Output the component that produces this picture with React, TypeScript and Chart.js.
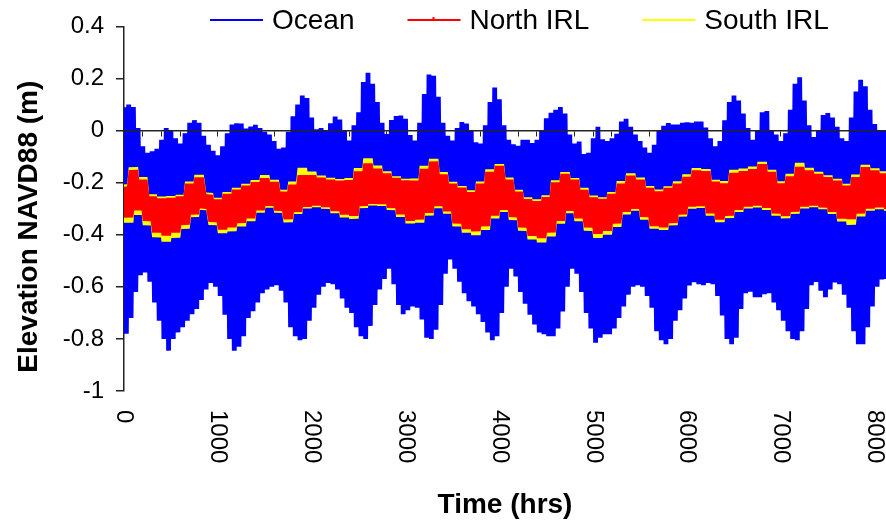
import React, { useEffect, useRef } from 'react';
import { Chart, registerables } from 'chart.js';

Chart.register(...registerables);

// ---------- data ----------
const seriesLabels = ['Ocean', 'North IRL', 'South IRL'];
const seriesColors = ['#0000ff', '#ff0000', '#ffff00'];

// sampling grid of the envelope readings (hours)
const OCEAN_STEP_HRS = 50;
const IRL_STEP_HRS = 100;

const X_MIN = 0;
const X_MAX = 8120;
const X_LABEL_STEP = 1000;
const X_LABEL_LAST = 8000;
const X_MINOR_STEP = 200;
const Y_MIN = -1;
const Y_MAX = 0.4;
const Y_STEP = 0.2;

const X_TITLE = 'Time (hrs)';
const Y_TITLE = 'Elevation NAVD88 (m)';

// Ocean: high-water and low-water levels (m), one pair every 50 hrs
const oceanHigh = [
  0.09, 0.10, 0.09, 0.01, -0.06, -0.085, -0.08, -0.07, -0.035, 0.01,
  0.0, -0.03, -0.05, -0.01, 0.03, 0.04, 0.03, -0.02, -0.055, -0.078,
  -0.095, -0.06, -0.01, 0.023, 0.028, 0.027, 0.008, 0.016, 0.022, 0.01,
  -0.005, -0.015, -0.04, -0.07, -0.065, -0.005, 0.055, 0.10, 0.135, 0.125,
  0.05, 0.005, 0.01, 0.0, 0.028, 0.054, 0.042, 0.0, -0.038, 0.02,
  0.07, 0.186, 0.222, 0.18, 0.11, 0.03, -0.013, 0.04, 0.056, 0.058,
  0.045, -0.017, -0.038, 0.03, 0.14, 0.215, 0.21, 0.13, 0.03, -0.02,
  -0.038, 0.01, 0.033, 0.027, 0.0, -0.045, -0.05, 0.02, 0.11, 0.165,
  0.12, 0.02, -0.035, -0.053, -0.058, -0.035, -0.035, -0.048, -0.035, 0.0,
  0.047, 0.068, 0.08, 0.09, 0.065, -0.015, -0.05, -0.042, -0.09, -0.085,
  -0.03, 0.015, -0.033, -0.04, -0.03, -0.012, 0.035, 0.045, 0.015, -0.015,
  -0.04, -0.065, -0.085, -0.055, 0.0, 0.018, 0.029, 0.023, 0.023, 0.03,
  0.032, 0.03, 0.035, 0.035, 0.012, -0.03, -0.06, -0.04, 0.04, 0.11,
  0.135, 0.115, 0.065, 0.01, -0.035, 0.0, 0.07, 0.075, 0.0, -0.015,
  -0.04, -0.01, 0.08, 0.18, 0.205, 0.115, 0.02, -0.025, 0.0, 0.06,
  0.067, 0.05, 0.015, -0.03, -0.04, 0.05, 0.15, 0.195, 0.17, 0.08,
  0.025, -0.002, 0.0, 0.01,
];
const oceanLow = [
  -0.78, -0.72, -0.62, -0.555, -0.545, -0.58, -0.66, -0.73, -0.80, -0.845,
  -0.80, -0.775, -0.755, -0.73, -0.705, -0.685, -0.65, -0.61, -0.585, -0.60,
  -0.635, -0.707, -0.80, -0.845, -0.83, -0.79, -0.72, -0.694, -0.66, -0.625,
  -0.61, -0.60, -0.594, -0.615, -0.66, -0.755, -0.79, -0.805, -0.80, -0.73,
  -0.68, -0.63, -0.60, -0.585, -0.59, -0.61, -0.645, -0.68, -0.70, -0.755,
  -0.79, -0.80, -0.75, -0.67, -0.61, -0.57, -0.53, -0.59, -0.67, -0.705,
  -0.69, -0.675, -0.68, -0.725, -0.795, -0.80, -0.765, -0.67, -0.55, -0.495,
  -0.53, -0.58, -0.625, -0.655, -0.675, -0.705, -0.735, -0.775, -0.805, -0.79,
  -0.70, -0.60, -0.53, -0.56, -0.62, -0.665, -0.707, -0.745, -0.775, -0.782,
  -0.79, -0.79, -0.76, -0.695, -0.60, -0.53, -0.55, -0.62, -0.70, -0.76,
  -0.815, -0.795, -0.782, -0.782, -0.76, -0.72, -0.675, -0.63, -0.60, -0.594,
  -0.60, -0.635, -0.68, -0.77, -0.805, -0.82, -0.80, -0.73, -0.69, -0.645,
  -0.595, -0.582, -0.59, -0.594, -0.585, -0.59, -0.635, -0.71, -0.80, -0.82,
  -0.795, -0.685, -0.625, -0.619, -0.64, -0.64, -0.628, -0.625, -0.66, -0.69,
  -0.73, -0.77, -0.80, -0.805, -0.77, -0.685, -0.594, -0.581, -0.615, -0.64,
  -0.61, -0.583, -0.59, -0.63, -0.68, -0.77, -0.82, -0.82, -0.755, -0.675,
  -0.60, -0.572, -0.57, -0.57,
];

// North IRL: high / low levels (m), one pair every 100 hrs
const northHigh = [
  -0.216, -0.153, -0.19, -0.255, -0.262, -0.26, -0.255, -0.205, -0.182, -0.25,
  -0.267, -0.245, -0.229, -0.213, -0.2, -0.185, -0.2, -0.238, -0.21, -0.173,
  -0.173, -0.183, -0.191, -0.194, -0.192, -0.158, -0.128, -0.148, -0.166, -0.184,
  -0.193, -0.194, -0.148, -0.12, -0.17, -0.205, -0.221, -0.238, -0.205, -0.16,
  -0.137, -0.19, -0.236, -0.265, -0.273, -0.257, -0.2, -0.168, -0.19, -0.23,
  -0.258, -0.264, -0.245, -0.205, -0.175, -0.19, -0.222, -0.235, -0.222, -0.205,
  -0.18, -0.155, -0.157, -0.198, -0.205, -0.164, -0.157, -0.15, -0.13, -0.16,
  -0.205, -0.178, -0.141, -0.155, -0.168, -0.181, -0.194, -0.214, -0.18, -0.142,
  -0.155, -0.166,
];
const northLow = [
  -0.332, -0.304, -0.345, -0.39, -0.402, -0.39, -0.36, -0.32, -0.295, -0.348,
  -0.378, -0.37, -0.353, -0.335, -0.304, -0.286, -0.305, -0.338, -0.31, -0.291,
  -0.286, -0.291, -0.307, -0.321, -0.326, -0.288, -0.279, -0.28, -0.295, -0.32,
  -0.345, -0.34, -0.315, -0.288, -0.308, -0.355, -0.377, -0.385, -0.366, -0.325,
  -0.302, -0.33, -0.37, -0.402, -0.411, -0.39, -0.345, -0.306, -0.335, -0.37,
  -0.395, -0.383, -0.355, -0.31, -0.298, -0.33, -0.365, -0.37, -0.353, -0.32,
  -0.29, -0.288, -0.316, -0.34, -0.325, -0.303, -0.29, -0.286, -0.295, -0.316,
  -0.326, -0.31, -0.29, -0.286, -0.293, -0.31, -0.336, -0.338, -0.317, -0.298,
  -0.293, -0.30,
];

// South IRL: high / low levels (m), one pair every 100 hrs
const southHigh = [
  -0.207, -0.142, -0.18, -0.247, -0.255, -0.253, -0.248, -0.197, -0.172, -0.242,
  -0.26, -0.238, -0.222, -0.206, -0.192, -0.173, -0.192, -0.23, -0.198, -0.145,
  -0.16, -0.175, -0.184, -0.188, -0.184, -0.145, -0.108, -0.136, -0.158, -0.178,
  -0.187, -0.186, -0.137, -0.11, -0.161, -0.198, -0.215, -0.231, -0.197, -0.15,
  -0.13, -0.182, -0.229, -0.258, -0.266, -0.25, -0.192, -0.161, -0.184, -0.222,
  -0.251, -0.258, -0.238, -0.196, -0.166, -0.182, -0.215, -0.228, -0.216, -0.197,
  -0.17, -0.146, -0.149, -0.191, -0.196, -0.152, -0.148, -0.14, -0.122, -0.152,
  -0.197, -0.168, -0.125, -0.145, -0.16, -0.174, -0.187, -0.206, -0.17, -0.133,
  -0.147, -0.158,
];
const southLow = [
  -0.352, -0.322, -0.362, -0.408, -0.425, -0.41, -0.375, -0.33, -0.302, -0.36,
  -0.392, -0.385, -0.366, -0.346, -0.313, -0.293, -0.313, -0.35, -0.318, -0.297,
  -0.292, -0.298, -0.315, -0.332, -0.337, -0.296, -0.286, -0.287, -0.303, -0.33,
  -0.355, -0.352, -0.325, -0.296, -0.317, -0.366, -0.39, -0.4, -0.38, -0.336,
  -0.31, -0.341, -0.383, -0.416, -0.428, -0.405, -0.356, -0.315, -0.346, -0.383,
  -0.41, -0.398, -0.368, -0.32, -0.305, -0.34, -0.375, -0.38, -0.362, -0.328,
  -0.298, -0.295, -0.325, -0.35, -0.334, -0.311, -0.297, -0.293, -0.303, -0.325,
  -0.335, -0.318, -0.297, -0.292, -0.3, -0.318, -0.347, -0.36, -0.328, -0.306,
  -0.3, -0.307,
];

// ---------- helpers ----------
const FONT = 'Arial, "Liberation Sans", sans-serif';

// alternate high and low readings along the time axis (tidal oscillation)
function tidePoints(high: number[], low: number[], step: number) {
  const pts: { x: number; y: number }[] = [];
  for (let i = 0; i < high.length; i++) {
    pts.push({ x: i * step, y: high[i] });
    pts.push({ x: i * step + step / 2, y: low[i] });
  }
  return pts;
}

const textPlugin = {
  id: 'customText',
  afterDraw(chart: any) {
    const { ctx, chartArea: ca } = chart;
    const xs = chart.scales.x;
    ctx.save();
    ctx.fillStyle = '#000';

    // rotated x tick labels (reading top to bottom)
    ctx.font = `24px ${FONT}`;
    ctx.textAlign = 'left';
    ctx.textBaseline = 'middle';
    for (let v = X_MIN; v <= X_LABEL_LAST; v += X_LABEL_STEP) {
      const px = xs.getPixelForValue(v);
      ctx.save();
      ctx.translate(px, ca.bottom + 19);
      ctx.rotate(Math.PI / 2);
      ctx.fillText(String(v), 0, 0);
      ctx.restore();
    }

    // y axis title
    ctx.font = `bold 28px ${FONT}`;
    ctx.textAlign = 'center';
    ctx.save();
    ctx.translate(29, (ca.top + ca.bottom) / 2 + 18);
    ctx.rotate(-Math.PI / 2);
    ctx.fillText(Y_TITLE, 0, 0);
    ctx.restore();

    // legend
    ctx.font = `28px ${FONT}`;
    ctx.textAlign = 'left';
    ctx.textBaseline = 'middle';
    let x = 210;
    const ly = 20;
    chart.data.datasets.forEach((ds: any) => {
      ctx.strokeStyle = ds.borderColor;
      ctx.lineWidth = 2;
      ctx.beginPath();
      ctx.moveTo(x, ly);
      ctx.lineTo(x + 53, ly);
      ctx.stroke();
      if (ds.legendMarker) {
        ctx.fillStyle = ds.borderColor;
        ctx.fillRect(x + 25, ly - 3, 2, 3);
      }
      ctx.fillStyle = '#000';
      ctx.fillText(ds.label, x + 62, ly + 1);
      x += 62 + ctx.measureText(ds.label).width + 53;
    });
    ctx.restore();
  },
};

export default function App() {
  const ref = useRef<HTMLCanvasElement | null>(null);

  useEffect(() => {
    if (!ref.current) return;
    const chart = new Chart(ref.current, {
      type: 'line',
      data: {
        datasets: [
          {
            label: seriesLabels[0],
            data: tidePoints(oceanHigh, oceanLow, OCEAN_STEP_HRS),
            borderColor: seriesColors[0],
            backgroundColor: seriesColors[0],
            borderWidth: 4.8,
            borderJoinStyle: 'bevel',
            pointRadius: 0,
            tension: 0,
            fill: false,
            clip: 0,
            order: 3,
          },
          {
            label: seriesLabels[1],
            data: tidePoints(northHigh, northLow, IRL_STEP_HRS),
            borderColor: seriesColors[1],
            backgroundColor: seriesColors[1],
            borderWidth: 9.5,
            borderJoinStyle: 'bevel',
            pointRadius: 0,
            tension: 0,
            fill: false,
            clip: 0,
            order: 1,
            legendMarker: true,
          } as any,
          {
            label: seriesLabels[2],
            data: tidePoints(southHigh, southLow, IRL_STEP_HRS),
            borderColor: seriesColors[2],
            backgroundColor: seriesColors[2],
            borderWidth: 9.5,
            borderJoinStyle: 'bevel',
            pointRadius: 0,
            tension: 0,
            fill: false,
            clip: 0,
            order: 2,
          },
        ],
      },
      options: {
        responsive: false,
        animation: false,
        events: [],
        parsing: false,
        layout: { padding: { top: 20, left: 0, right: 0, bottom: 0 } },
        plugins: {
          legend: { display: false },
          tooltip: { enabled: false },
        },
        scales: {
          x: {
            type: 'linear',
            position: 'bottom',
            min: X_MIN,
            max: X_MAX,
            ticks: {
              display: false,
              stepSize: X_LABEL_STEP,
              includeBounds: false,
              autoSkip: false,
            },
            grid: { display: false },
            border: { display: false },
            title: {
              display: true,
              text: X_TITLE,
              color: '#000',
              font: { family: FONT, size: 28, weight: 'bold' },
              padding: { top: 0, bottom: 0 },
            },
            afterFit: (s: any) => {
              s.height = 131;
            },
          },
          x0: {
            type: 'linear',
            axis: 'x',
            position: { y: 0 },
            min: X_MIN,
            max: X_MAX,
            ticks: {
              display: false,
              stepSize: X_MINOR_STEP,
              includeBounds: false,
              autoSkip: false,
            },
            grid: {
              display: true,
              drawOnChartArea: false,
              drawTicks: true,
              tickLength: 5,
              color: '#222',
              lineWidth: 1,
            },
            border: { display: true, color: '#222', width: 1.5, z: 1 },
          },
          y: {
            type: 'linear',
            position: 'left',
            min: Y_MIN,
            max: Y_MAX,
            ticks: {
              stepSize: Y_STEP,
              color: '#000',
              padding: 12,
              font: { family: FONT, size: 24 },
              callback: (v: any) => String(+Number(v).toFixed(1)),
            },
            grid: {
              display: true,
              drawOnChartArea: false,
              drawTicks: true,
              tickLength: 8,
              color: '#222',
              lineWidth: 1.5,
            },
            border: { display: true, color: '#222', width: 1.5 },
            afterFit: (s: any) => {
              s.width = 124;
            },
          },
        },
      } as any,
      plugins: [textPlugin],
    });
    return () => chart.destroy();
  }, []);

  return (
    <div style={{ position: 'absolute', left: 0, top: 0, width: 886, height: 522, background: '#fff' }}>
      <canvas ref={ref} width={886} height={522} style={{ display: 'block' }} />
    </div>
  );
}
